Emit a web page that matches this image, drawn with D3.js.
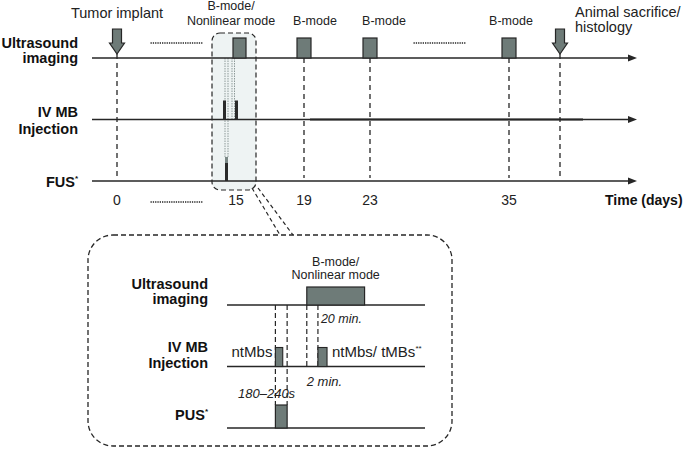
<!DOCTYPE html>
<html>
<head>
<meta charset="utf-8">
<script src="https://cdn.jsdelivr.net/npm/d3@7.9.0/dist/d3.min.js"></script>
<style>
  body { margin: 0; background: #fff; }
  svg { display: block; font-family: "Liberation Sans", Arial, sans-serif; }
</style>
</head>
<body>
<svg id="chart" width="685" height="449"></svg>
<script>
// ---------- DATA ----------
const rows = ["us", "mb", "fus"];
const rowLabels = [["Ultrasound", "imaging"], ["IV MB", "Injection"], ["FUS", "*"]];
const dayTicks = [0, 15, 19, 23, 35];
const imagingDays = [15, 19, 23, 35];
const imagingLabels = [["B-mode/", "Nonlinear mode"], ["B-mode"], ["B-mode"], ["B-mode"]];
const markerDays = [0, 38];
const markerLabels = [["Tumor implant"], ["Animal sacrifice/", "histology"]];
const breaks = [[0, 15], [23, 35]];

// inset, minutes after the first injection
const insetRows = ["us", "mb", "pus"];
const insetLabels = [["Ultrasound", "imaging"], ["IV MB", "Injection"], ["PUS", "*"]];
const insetImaging = [10.7, 30.4];
const insetInjections = [[0, 2.5], [14.5, 17.6]];
const insetPUS = [0, 4];

// ---------- SETUP ----------
const svg = d3.select("#chart");
const ink = "#262626";
const boxFill = "#6e7b78";

const x = d3.scaleLinear()
  .domain([0, 15, 19, 23, 35, 38])
  .range([117, 236, 304, 370, 509, 560]);
const y = d3.scalePoint().domain(rows).range([58, 181]);

const x2 = d3.scaleLinear().domain([-16.5, 51]).range([227, 425]);
const y2 = d3.scalePoint().domain(insetRows).range([305, 428]);

const lineStart = 92, lineEnd = 637;

// ---------- HIGHLIGHT BOX (day 15) ----------
svg.append("rect")
  .attr("x", x(15) - 24).attr("y", 33)
  .attr("width", 44).attr("height", 157)
  .attr("rx", 8)
  .attr("fill", "#eef3f3")
  .attr("stroke", ink).attr("stroke-width", 1.2)
  .attr("stroke-dasharray", "5,3");

// faint dotted guides inside the highlight
[[-11, y("fus") - 24], [-8, y("fus") - 24], [-4, y("mb")], [-1.5, y("mb")]].forEach(([dx, y1]) => {
  svg.append("line")
    .attr("x1", x(15) + dx).attr("x2", x(15) + dx)
    .attr("y1", y("us")).attr("y2", y1)
    .attr("stroke", "#8e9a99").attr("stroke-width", 1)
    .attr("stroke-dasharray", "1.5,1");
});

// ---------- VERTICAL DASHED LINES ----------
[0, 19, 23, 35, 38].forEach(d => {
  svg.append("line")
    .attr("x1", x(d)).attr("x2", x(d))
    .attr("y1", markerDays.includes(d) ? 54 : y("us"))
    .attr("y2", 178)
    .attr("stroke", ink).attr("stroke-width", 1.3)
    .attr("stroke-dasharray", "5,4");
});

// ---------- TIMELINES ----------
rows.forEach(r => {
  svg.append("line")
    .attr("x1", lineStart).attr("x2", lineEnd - 6)
    .attr("y1", y(r)).attr("y2", y(r))
    .attr("stroke", ink).attr("stroke-width", 1.6);
  svg.append("path")
    .attr("d", `M${lineEnd},${y(r)} L${lineEnd - 9},${y(r) - 3.5} L${lineEnd - 9},${y(r) + 3.5} Z`)
    .attr("fill", ink);
});
svg.append("line")
  .attr("x1", x(19) + 6).attr("x2", 583)
  .attr("y1", y("mb")).attr("y2", y("mb"))
  .attr("stroke", ink).attr("stroke-width", 1.9);

// row labels
const rowDy = [[-10, 5], [-3, 14], [6]];
rowLabels.forEach((lines, i) => {
  const g = svg.append("g").attr("font-size", 14.5).attr("font-weight", "bold").attr("fill", "#111").attr("text-anchor", "end");
  if (rows[i] === "fus") {
    const tx = g.append("text").attr("x", 78).attr("y", y(rows[i]) + rowDy[i][0]);
    tx.append("tspan").text(lines[0]);
    tx.append("tspan").attr("font-size", 8).attr("dy", -6).text(lines[1]);
  } else {
    lines.forEach((l, j) => g.append("text").attr("x", 78).attr("y", y(rows[i]) + rowDy[i][j]).text(l));
  }
});

// ---------- IMAGING SESSIONS ----------
const labelDx = [-5, 11, 14, 2];
imagingDays.forEach((d, i) => {
  const x0 = d === 15 ? x(d) - 3 : x(d) - 7;
  svg.append("rect")
    .attr("x", x0).attr("y", y("us") - 20)
    .attr("width", d === 15 ? 13 : 14).attr("height", 20)
    .attr("fill", boxFill).attr("stroke", ink).attr("stroke-width", 1.2);
  const lines = imagingLabels[i];
  lines.forEach((l, j) => {
    svg.append("text")
      .attr("x", x(d) + labelDx[i])
      .attr("y", 25 - (lines.length - 1 - j) * 15)
      .attr("text-anchor", "middle")
      .attr("font-size", 12.5).attr("fill", "#222")
      .text(l);
  });
});

// injections and FUS on day 15
[-13, -1].forEach(dx => {
  svg.append("rect")
    .attr("x", x(15) + dx).attr("y", y("mb") - 19)
    .attr("width", 3).attr("height", 19)
    .attr("fill", "#2a2a2a");
});
svg.append("rect")
  .attr("x", x(15) - 11).attr("y", y("fus") - 24)
  .attr("width", 3).attr("height", 24)
  .attr("fill", "#2a2a2a");
svg.append("rect")
  .attr("x", x(15) - 11).attr("y", y("fus") - 24)
  .attr("width", 3).attr("height", 6)
  .attr("fill", "#7b8886");

// ---------- MARKERS ----------
markerDays.forEach((d, i) => {
  const cx = x(d);
  svg.append("path")
    .attr("d", `M${cx - 4.5},29 L${cx + 4.5},29 L${cx + 4.5},43 L${cx + 7.5},43 L${cx},54 L${cx - 7.5},43 L${cx - 4.5},43 Z`)
    .attr("fill", boxFill).attr("stroke", ink).attr("stroke-width", 1.2);
  const lines = markerLabels[i];
  lines.forEach((l, j) => {
    svg.append("text")
      .attr("x", i === 0 ? cx : cx + 15)
      .attr("y", (i === 0 ? 18 : 17) + j * 15)
      .attr("text-anchor", i === 0 ? "middle" : "start")
      .attr("font-size", 14.5).attr("fill", "#222")
      .text(l);
  });
});

// ---------- BREAKS ----------
breaks.forEach(([a, b], i) => {
  const mid = (x(a) + x(b)) / 2;
  const ys = i === 0 ? [43, 202] : [43];
  ys.forEach(yy => {
    svg.append("line")
      .attr("x1", mid - 26).attr("x2", mid + 26)
      .attr("y1", yy).attr("y2", yy)
      .attr("stroke", ink).attr("stroke-width", 1.3)
      .attr("stroke-dasharray", "1.3,1");
  });
});

// ---------- DAY AXIS ----------
svg.selectAll(".day")
  .data(dayTicks)
  .join("text")
  .attr("class", "day")
  .attr("x", d => x(d))
  .attr("y", 205)
  .attr("text-anchor", "middle")
  .attr("font-size", 14).attr("fill", "#222")
  .text(d => d);

svg.append("text")
  .attr("x", 605).attr("y", 205)
  .attr("font-size", 14).attr("font-weight", "bold").attr("fill", "#111")
  .text("Time (days)");

// ---------- ZOOM CONNECTORS ----------
[[252, 280], [258, 293]].forEach(([a, b]) => {
  svg.append("line")
    .attr("x1", a).attr("y1", 188).attr("x2", b).attr("y2", 235)
    .attr("stroke", ink).attr("stroke-width", 1.2)
    .attr("stroke-dasharray", "4,3");
});

// ---------- INSET ----------
svg.append("rect")
  .attr("x", 88).attr("y", 235)
  .attr("width", 364).attr("height", 211)
  .attr("rx", 25)
  .attr("fill", "none")
  .attr("stroke", ink).attr("stroke-width", 1.3)
  .attr("stroke-dasharray", "5,3");

// dashed guides
[[insetPUS[0], y2("pus") - 23], [insetPUS[1], y2("pus") - 23],
 [insetImaging[0], y2("mb")], [insetInjections[1][0], y2("mb")]].forEach(([t, y1]) => {
  svg.append("line")
    .attr("x1", x2(t)).attr("x2", x2(t))
    .attr("y1", y2("us")).attr("y2", y1)
    .attr("stroke", ink).attr("stroke-width", 1.2)
    .attr("stroke-dasharray", "5,3");
});

insetRows.forEach(r => {
  svg.append("line")
    .attr("x1", x2.range()[0]).attr("x2", x2.range()[1])
    .attr("y1", y2(r)).attr("y2", y2(r))
    .attr("stroke", ink).attr("stroke-width", 1.6);
});

const insetDy = [[-16, -1], [-15, 1], [-8]];
insetLabels.forEach((lines, i) => {
  const g = svg.append("g").attr("font-size", 14.5).attr("font-weight", "bold").attr("fill", "#111").attr("text-anchor", "end");
  if (insetRows[i] === "pus") {
    const tx = g.append("text").attr("x", 208).attr("y", y2(insetRows[i]) + insetDy[i][0]);
    tx.append("tspan").text(lines[0]);
    tx.append("tspan").attr("font-size", 8).attr("dy", -6).text(lines[1]);
  } else {
    lines.forEach((l, j) => g.append("text").attr("x", 208).attr("y", y2(insetRows[i]) + insetDy[i][j]).text(l));
  }
});

// imaging block
svg.append("rect")
  .attr("x", x2(insetImaging[0])).attr("y", y2("us") - 18)
  .attr("width", x2(insetImaging[1]) - x2(insetImaging[0])).attr("height", 18)
  .attr("fill", boxFill).attr("stroke", ink).attr("stroke-width", 1.2);
["B-mode/", "Nonlinear mode"].forEach((l, j) => {
  svg.append("text")
    .attr("x", (x2(insetImaging[0]) + x2(insetImaging[1])) / 2)
    .attr("y", 266 + j * 13)
    .attr("text-anchor", "middle")
    .attr("font-size", 12.5).attr("fill", "#222")
    .text(l);
});

// injections
svg.selectAll(".inj")
  .data(insetInjections)
  .join("rect")
  .attr("class", "inj")
  .attr("x", d => x2(d[0])).attr("y", y2("mb") - 19)
  .attr("width", d => x2(d[1]) - x2(d[0])).attr("height", 19)
  .attr("fill", boxFill).attr("stroke", ink).attr("stroke-width", 1.1);

// PUS block
svg.append("rect")
  .attr("x", x2(insetPUS[0])).attr("y", y2("pus") - 23)
  .attr("width", x2(insetPUS[1]) - x2(insetPUS[0])).attr("height", 23)
  .attr("fill", boxFill).attr("stroke", ink).attr("stroke-width", 1.2);

// annotations
svg.append("text")
  .attr("x", x2(insetInjections[0][0]) - 3).attr("y", 357)
  .attr("text-anchor", "end").attr("font-size", 15).attr("fill", "#222")
  .text("ntMbs");
const t2 = svg.append("text")
  .attr("x", x2(insetInjections[1][1]) + 5).attr("y", 357)
  .attr("font-size", 15).attr("fill", "#222");
t2.append("tspan").text("ntMbs/ tMBs");
t2.append("tspan").attr("font-size", 8).attr("dy", -6).text("**");

svg.append("text")
  .attr("x", x2(insetInjections[1][0]) + 3).attr("y", 323)
  .attr("font-size", 12.5).attr("font-style", "italic").attr("fill", "#222")
  .text("20 min.");
svg.append("text")
  .attr("x", x2(insetImaging[0])).attr("y", 386)
  .attr("font-size", 13).attr("font-style", "italic").attr("fill", "#222")
  .text("2 min.");
svg.append("text")
  .attr("x", x2(insetPUS[1]) + 8).attr("y", 398)
  .attr("text-anchor", "end")
  .attr("font-size", 13).attr("font-style", "italic").attr("fill", "#222")
  .text("180–240s");
</script>
</body>
</html>
